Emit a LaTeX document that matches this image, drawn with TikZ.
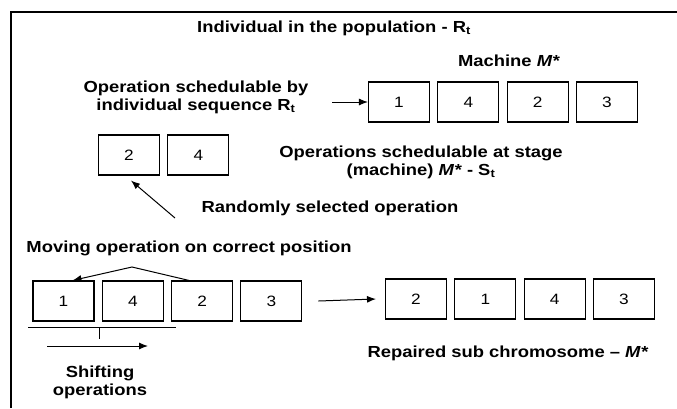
\documentclass[tikz,border=0pt]{standalone}
\usepackage{fontspec}
\setmainfont{Liberation Sans}[FakeStretch=1.15]
\usetikzlibrary{positioning,arrows.meta}

\begin{document}
\begin{tikzpicture}[x=1pt,y=-1pt,>={Latex[length=9pt,width=7pt]},line width=1pt,
  node distance=69.3pt,on grid,
  opbox/.style={draw,line width=1.1pt,minimum width=61pt,minimum height=40pt,inner sep=0pt,font=\fontsize{15}{17}\selectfont},
  lbl/.style={font=\bfseries\fontsize{16}{18}\selectfont,align=center,inner sep=0pt}]
\useasboundingbox (0,0) rectangle (677,408);
\draw[line width=2pt] (11,408) -- (11,12) -- (677,12);

% labels
\node[lbl] (title) at (334,28) {Individual in the population - R\textsubscript{t}};
\node[lbl] (mach) at (509,61) {Machine \textit{M*}};
\node[lbl] (sched) at (196,97) {Operation schedulable by\\individual sequence R\textsubscript{t}};
\node[lbl] (stage) at (421,162) {Operations schedulable at stage\\(machine) \textit{M*} - S\textsubscript{t}};
\node[lbl] (rand) at (330,208) {Randomly selected operation};
\node[lbl] (move) at (189,248) {Moving operation on correct position};
\node[lbl] (shift) at (100,382) {Shifting\\operations};
\node[lbl] (rep) at (508,353) {Repaired sub chromosome -- \textit{M*}};

% machine sequence
\node[opbox] (m1) at (399,102) {1};
\node[opbox] (m4) [right=of m1] {4};
\node[opbox] (m2) [right=of m4] {2};
\node[opbox] (m3) [right=of m2] {3};

% schedulable set
\node[opbox] (s2) at (129,155) {2};
\node[opbox] (s4) [right=of s2] {4};

% before repair
\node[opbox] (b1) at (63.5,301) {1};
\node[opbox] (b4) [right=of b1] {4};
\node[opbox] (b2) [right=of b4] {2};
\node[opbox] (b3) [right=of b2] {3};

% after repair
\node[opbox] (r2) at (416,299) {2};
\node[opbox] (r1) [right=of r2] {1};
\node[opbox] (r4) [right=of r1] {4};
\node[opbox] (r3) [right=of r4] {3};

\coordinate (in) at (332,102);
\coordinate (pick) at (175,218);
\coordinate (peak) at (132,267);
\coordinate (sa) at (47,346);
\coordinate (sb) at (148,346);

\draw[->] (in) -- (m1.west);
\draw[->] (pick) -- ([xshift=2pt,yshift=-5pt]s2.south);
\draw[->] ([xshift=-13pt]b2.north) -- (peak) -- ([xshift=9pt]b1.north);
\draw[->] ([xshift=16pt]b3.east) -- ([xshift=-9pt]r2.west);
\draw (28,327) -- (176,327);
\draw (99,327) -- (99,339);
\draw[->] (sa) -- (sb);
\end{tikzpicture}
\end{document}
